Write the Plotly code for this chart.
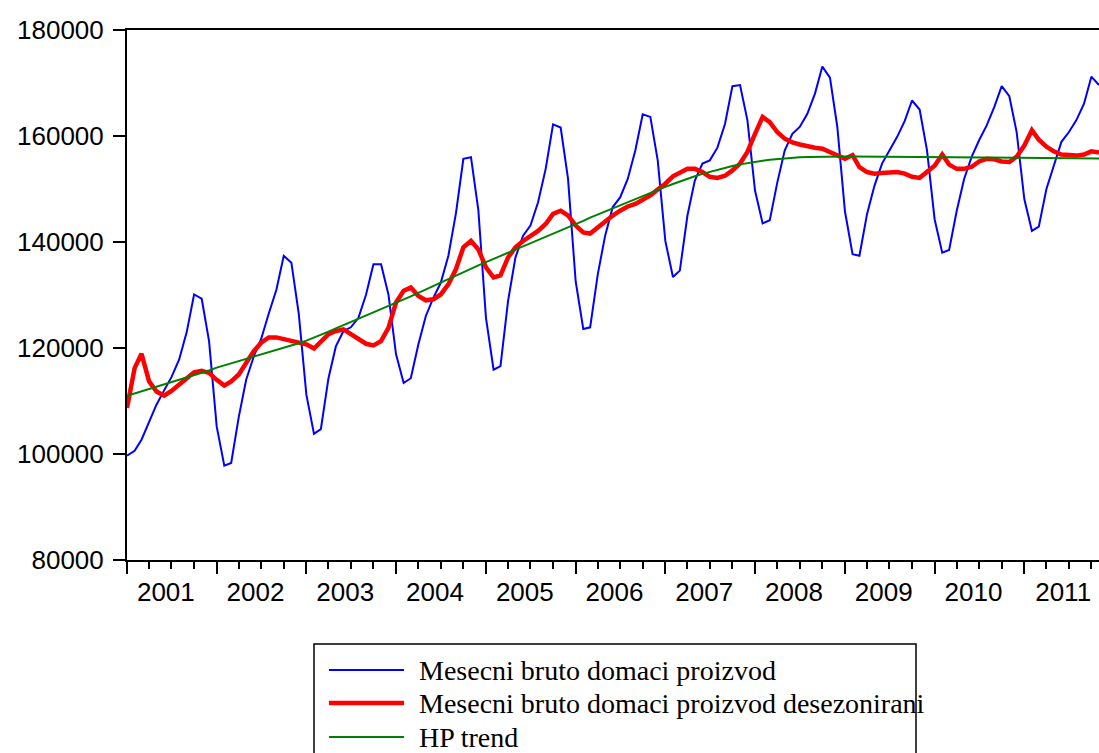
import pandas as pd
import plotly.graph_objects as go

start_month = "2001-01-01"
n_months = 131
months = pd.date_range(start_month, periods=n_months, freq="MS")

gdp = [
    # 2001
    99700, 100600, 102700, 106000, 109300, 112000, 114500, 117800, 123000, 130100, 129300, 121300,
    # 2002
    105200, 97800, 98300, 107000, 114000, 118400, 121700, 126500, 131000, 137400, 136100, 126500,
    # 2003
    111200, 103800, 104700, 114300, 120300, 123200, 123900, 125700, 130100, 135800, 135800, 130100,
    # 2004
    118800, 113400, 114300, 120700, 126000, 129500, 132300, 137400, 145500, 155700, 156000, 146000,
    # 2005
    125700, 115900, 116600, 128900, 137100, 141200, 143100, 147500, 153800, 162200, 161600, 151900,
    # 2006
    132600, 123600, 123900, 133900, 141200, 146600, 148400, 151900, 157300, 164100, 163600, 155400,
    # 2007
    140200, 133400, 134600, 145000, 151600, 154800, 155400, 157800, 162300, 169400, 169600, 163000,
    # 2008
    149700, 143500, 144100, 151300, 157300, 160400, 161700, 164200, 168000, 173100, 171000, 161700,
    # 2009
    145800, 137700, 137400, 145300, 150600, 154800, 157300, 159800, 162800, 166700, 165000, 157300,
    # 2010
    144300, 138000, 138500, 145900, 151900, 156100, 159200, 162000, 165500, 169400, 167500, 160700,
    # 2011
    148100, 142100, 142900, 150000, 154400, 158900, 160700, 163000, 166100, 171200, 169600,
]

gdp_sa = [
    # 2001
    108700, 116200, 118900, 113700, 111800, 111000, 111900, 113100, 114500, 115400, 115700, 115300,
    # 2002
    114000, 112900, 113700, 115000, 117200, 119400, 121000, 122000, 122000, 121700, 121400, 121000,
    # 2003
    120700, 119900, 121100, 122600, 123200, 123500, 122600, 121600, 120800, 120500, 121300, 123800,
    # 2004
    128600, 130800, 131400, 129800, 129000, 129200, 130100, 132000, 134900, 139000, 140200, 138600,
    # 2005
    135200, 133300, 133700, 137100, 139000, 140200, 141200, 142100, 143400, 145300, 145900, 145000,
    # 2006
    143100, 141800, 141600, 142800, 144000, 145000, 145900, 146700, 147200, 148000, 148800, 149900,
    # 2007
    151000, 152400, 153000, 153800, 153800, 153200, 152300, 152100, 152500, 153500, 154800, 157000,
    # 2008
    160400, 163600, 162600, 160700, 159500, 158800, 158400, 158000, 157800, 157600, 157000, 156300,
    # 2009
    155700, 156400, 154100, 153200, 152900, 153000, 153200, 153200, 152900, 152300, 152100, 153200,
    # 2010
    154400, 156500, 154600, 153800, 153800, 154200, 155200, 155700, 155600, 155200, 155100, 156100,
    # 2011
    158200, 161100, 159300, 158000, 157100, 156500, 156300, 156300, 156500, 157100, 156900,
]

hp_trend = [
    # 2001
    111000, 111430, 111860, 112290, 112720, 113150, 113580, 114010, 114440, 114870, 115300, 115750,
    # 2002
    116300, 116720, 117140, 117560, 117980, 118400, 118820, 119240, 119660, 120080, 120500, 120900,
    # 2003
    121400, 121950, 122500, 123100, 123700, 124300, 124900, 125500, 126100, 126700, 127300, 127900,
    # 2004
    128500, 129100, 129750, 130400, 131050, 131700, 132350, 133000, 133650, 134300, 134950, 135600,
    # 2005
    136200, 136800, 137400, 138000, 138600, 139200, 139800, 140400, 141000, 141600, 142200, 142800,
    # 2006
    143400, 144000, 144600, 145200, 145800, 146400, 146950, 147500, 148050, 148750, 149300, 149850,
    # 2007
    150400, 150950, 151450, 151950, 152400, 152850, 153250, 153650, 154000, 154350, 154650, 154900,
    # 2008
    155150, 155350, 155500, 155650, 155800, 155900, 155980, 156040, 156080, 156100, 156120, 156130,
    # 2009
    156130, 156130, 156120, 156110, 156100, 156080, 156060, 156040, 156020, 156000, 155990, 155980,
    # 2010
    155970, 155960, 155950, 155940, 155930, 155920, 155910, 155900, 155890, 155880, 155870, 155860,
    # 2011
    155850, 155840, 155830, 155820, 155810, 155800, 155790, 155780, 155770, 155760, 155750,
]

series_names = [
    "Mesecni bruto domaci proizvod",
    "Mesecni bruto domaci proizvod desezonirani",
    "HP trend",
]
series_colors = ["#0000FF", "#FF0000", "#008000"]
series_widths = [2, 4.5, 2]
y_ticks = [80000, 100000, 120000, 140000, 160000, 180000]

# Figure geometry (pixels)
W, H = 1099, 753
PL, PR, PT, PB = 127, 1099, 30, 560


def paper_x(px):
    return (px - PL) / (PR - PL)


def paper_y(py):
    return (PB - py) / (PB - PT)


fig = go.Figure()
for vals, name, col, wid in zip([gdp, gdp_sa, hp_trend], series_names, series_colors, series_widths):
    fig.add_trace(go.Scatter(x=months, y=vals, mode="lines", name=name,
                             line=dict(color=col, width=wid), showlegend=False))

axis_font = dict(family="Liberation Sans, Arial, sans-serif", size=26, color="black")

# Legend box (EViews style, drawn below the plot)
legend_font = dict(family="Liberation Serif, Times New Roman, serif", size=28, color="black")
leg_left, leg_right, leg_top = 314, 916, 644
row_y = [670, 703, 737]
sample_x0, sample_x1, text_x = 329, 404, 417

shapes = [dict(type="rect", xref="paper", yref="paper",
               x0=paper_x(leg_left), x1=paper_x(leg_right),
               y0=paper_y(leg_top), y1=paper_y(H + 20),
               line=dict(color="black", width=1.5), fillcolor="rgba(0,0,0,0)", layer="above")]
annotations = []
for ry, name, col, wid in zip(row_y, series_names, series_colors, series_widths):
    shapes.append(dict(type="line", xref="paper", yref="paper",
                       x0=paper_x(sample_x0), x1=paper_x(sample_x1),
                       y0=paper_y(ry), y1=paper_y(ry),
                       line=dict(color=col, width=wid)))
    annotations.append(dict(xref="paper", yref="paper", x=paper_x(text_x), y=paper_y(ry),
                            xanchor="left", yanchor="middle", text=name, showarrow=False,
                            font=legend_font))

fig.update_layout(
    width=W, height=H,
    margin=dict(l=PL, r=W - PR, t=PT, b=H - PB, pad=0),
    paper_bgcolor="white", plot_bgcolor="white",
    showlegend=False,
    shapes=shapes,
    annotations=annotations,
    xaxis=dict(
        type="date",
        range=["2001-01-01", "2011-11-01"],
        showgrid=False, zeroline=False,
        showline=True, linecolor="black", linewidth=2, mirror=True,
        ticks="outside", ticklen=12, tickwidth=2, tickcolor="black",
        dtick="M12", tick0="2001-01-01", ticklabelmode="period", tickformat="%Y",
        ticklabelshift=-6, ticklabelstandoff=-4,
        minor=dict(ticks="outside", ticklen=7, tickwidth=2, tickcolor="black",
                   dtick="M3", showgrid=False),
        tickfont=axis_font,
    ),
    yaxis=dict(
        range=[80000, 180000],
        tickvals=y_ticks, tickformat="d",
        showgrid=False, zeroline=False,
        showline=True, linecolor="black", linewidth=2, mirror=False,
        ticks="outside", ticklen=12, tickwidth=2, tickcolor="black",
        ticklabelstandoff=4,
        tickfont=axis_font,
    ),
)

fig.write_html(
    "out.html",
    config={"displayModeBar": False},
    post_script="document.body.style.margin='0px';document.body.style.padding='0px';"
                "document.body.style.overflow='hidden';",
)
